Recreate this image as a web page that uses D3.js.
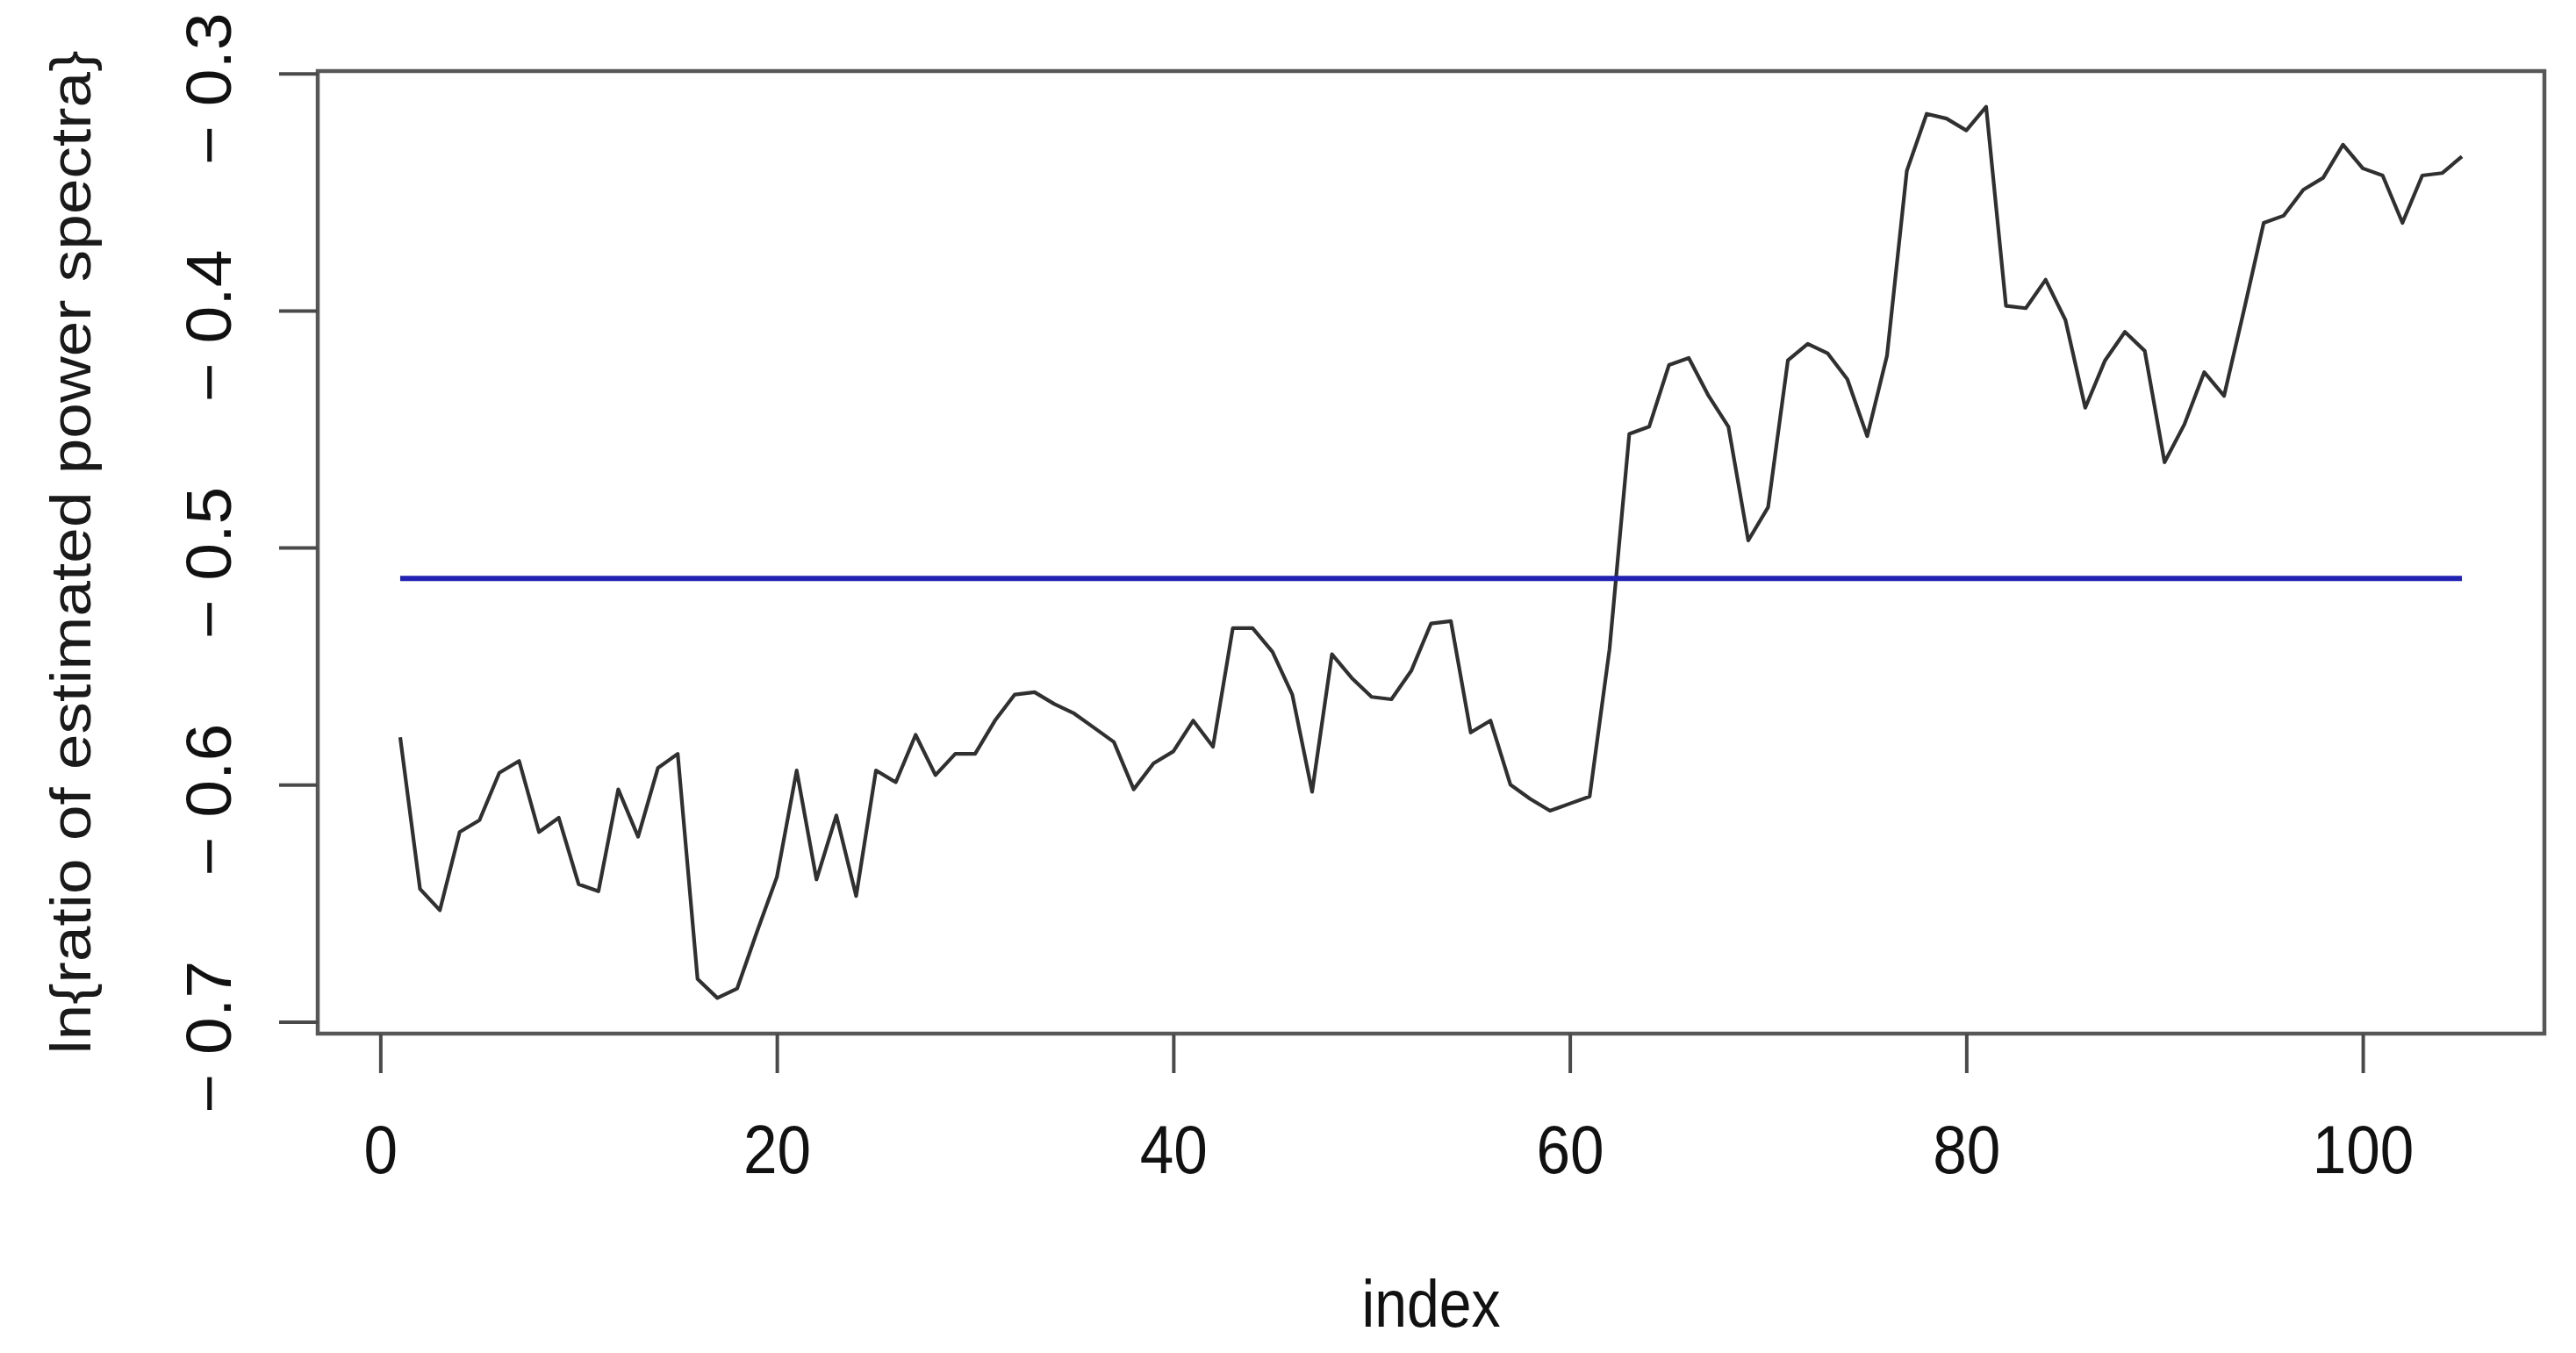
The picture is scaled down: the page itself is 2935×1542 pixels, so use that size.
<!DOCTYPE html>
<html><head><meta charset="utf-8">
<script src="https://cdn.jsdelivr.net/npm/d3@7"></script>
<style>html,body{margin:0;padding:0;background:#fff;overflow:hidden}</style>
</head><body>
<svg id="chart" width="2935" height="1542"></svg>
<script>
// ---- data ----
const indexValues = [1,2,3,4,5,6,7,8,9,10,11,12,13,14,15,16,17,18,19,20,
  21,22,23,24,25,26,27,28,29,30,31,32,33,34,35,36,37,38,39,40,
  41,42,43,44,45,46,47,48,49,50,51,52,53,54,55,56,57,58,59,60,
  61,62,63,64,65,66,67,68,69,70,71,72,73,74,75,76,77,78,79,80,
  81,82,83,84,85,86,87,88,89,90,91,92,93,94,95,96,97,98,99,100,
  101,102,103,104,105];
const ratioValues = [
  -0.580,-0.644,-0.653,-0.620,-0.615,-0.595,-0.590,-0.620,-0.614,-0.642,
  -0.645,-0.602,-0.622,-0.593,-0.587,-0.682,-0.690,-0.686,-0.662,-0.639,
  -0.594,-0.640,-0.613,-0.647,-0.594,-0.599,-0.579,-0.596,-0.587,-0.587,
  -0.573,-0.562,-0.561,-0.566,-0.570,-0.576,-0.582,-0.602,-0.591,-0.586,
  -0.573,-0.584,-0.534,-0.534,-0.544,-0.562,-0.603,-0.545,-0.555,-0.563,
  -0.564,-0.552,-0.532,-0.531,-0.578,-0.573,-0.600,-0.606,-0.611,-0.608,
  -0.605,-0.543,-0.452,-0.449,-0.423,-0.420,-0.436,-0.449,-0.497,-0.483,
  -0.421,-0.414,-0.418,-0.429,-0.453,-0.419,-0.341,-0.317,-0.319,-0.324,
  -0.314,-0.398,-0.399,-0.387,-0.404,-0.441,-0.421,-0.409,-0.417,-0.464,
  -0.448,-0.426,-0.436,-0.400,-0.363,-0.360,-0.349,-0.344,-0.330,-0.340,
  -0.343,-0.363,-0.343,-0.342,-0.335];
const meanLevel = [-0.513];
const xTicks = [0,20,40,60,80,100];
const yTicks = [-0.7,-0.6,-0.5,-0.4,-0.3];
const yTickLabels = ["−0.7","−0.6","−0.5","−0.4","−0.3"];
const xLabel = "index";
const yLabel = "ln{ratio of estimated power spectra}";

// ---- layout ----
const box = {left: 362, right: 2899, top: 81, bottom: 1178};
const FONT = "'Liberation Sans', Arial, Helvetica, sans-serif";
const svg = d3.select("#chart");

// R-style 4% padded ranges
const xe = d3.extent(indexValues), xp = 0.04 * (xe[1] - xe[0]);
const ye = d3.extent(ratioValues), yp = 0.04 * (ye[1] - ye[0]);
const x = d3.scaleLinear().domain([xe[0] - xp, xe[1] + xp]).range([box.left, box.right]);
const y = d3.scaleLinear().domain([ye[0] - yp, ye[1] + yp]).range([box.bottom, box.top]);

const series = indexValues.map((i, k) => ({i, v: ratioValues[k]}));
const line = d3.line().x(d => x(d.i)).y(d => y(d.v));

svg.append("path").datum(series)
  .attr("d", line).attr("fill", "none")
  .attr("stroke", "#303030").attr("stroke-width", 4.2)
  .attr("stroke-linejoin", "round");

svg.append("path")
  .datum([{i: xe[0], v: meanLevel[0]}, {i: xe[1], v: meanLevel[0]}])
  .attr("d", line).attr("fill", "none")
  .attr("stroke", "#2222b2").attr("stroke-width", 6);

// box
svg.append("rect")
  .attr("x", box.left).attr("y", box.top)
  .attr("width", box.right - box.left).attr("height", box.bottom - box.top)
  .attr("fill", "none").attr("stroke", "#575757").attr("stroke-width", 4.5);

// x axis
const gx = svg.append("g").attr("transform", `translate(0,${box.bottom})`)
  .call(d3.axisBottom(x).tickValues(xTicks).tickSize(45).tickSizeOuter(0).tickFormat(d3.format("d")));
gx.select(".domain").remove();
gx.selectAll(".tick line").attr("stroke", "#4a4a4a").attr("stroke-width", 4);
gx.selectAll(".tick text")
  .attr("y", 159).attr("dy", 0)
  .attr("transform", "scale(0.9,1)")
  .attr("font-family", FONT).attr("font-size", 77).attr("fill", "#111");

// y axis
const gy = svg.append("g").attr("transform", `translate(${box.left},0)`)
  .call(d3.axisLeft(y).tickValues(yTicks).tickSize(44).tickSizeOuter(0).tickFormat(() => ""));
gy.select(".domain").remove();
gy.selectAll(".tick line").attr("stroke", "#4a4a4a").attr("stroke-width", 4);
gy.selectAll(".tick text").remove();
// rotated tick labels (minus sign, then a small gap, then the number)
gy.selectAll(".tick").each(function(d, k) {
  const t = d3.select(this).append("text")
    .attr("text-anchor", "start")
    .attr("transform", `translate(${263 - box.left},104) scale(0.94,1) rotate(-90)`)
    .attr("font-family", FONT).attr("font-size", 77).attr("fill", "#111");
  const lab = yTickLabels[k];
  t.append("tspan").text(lab.slice(0, 1));
  t.append("tspan").attr("dx", 22).text(lab.slice(1));
});

// axis titles
svg.append("text")
  .attr("transform", `translate(${(box.left + box.right) / 2},1512) scale(0.87,1)`)
  .attr("text-anchor", "middle")
  .attr("font-family", FONT).attr("font-size", 76).attr("fill", "#111")
  .text(xLabel);

svg.append("text")
  .attr("transform", `translate(103,${(box.top + box.bottom) / 2}) scale(0.88,1) rotate(-90)`)
  .attr("text-anchor", "middle")
  .attr("font-family", FONT).attr("font-size", 73).attr("fill", "#1a1a1a")
  .text(yLabel);
</script>
</body></html>
